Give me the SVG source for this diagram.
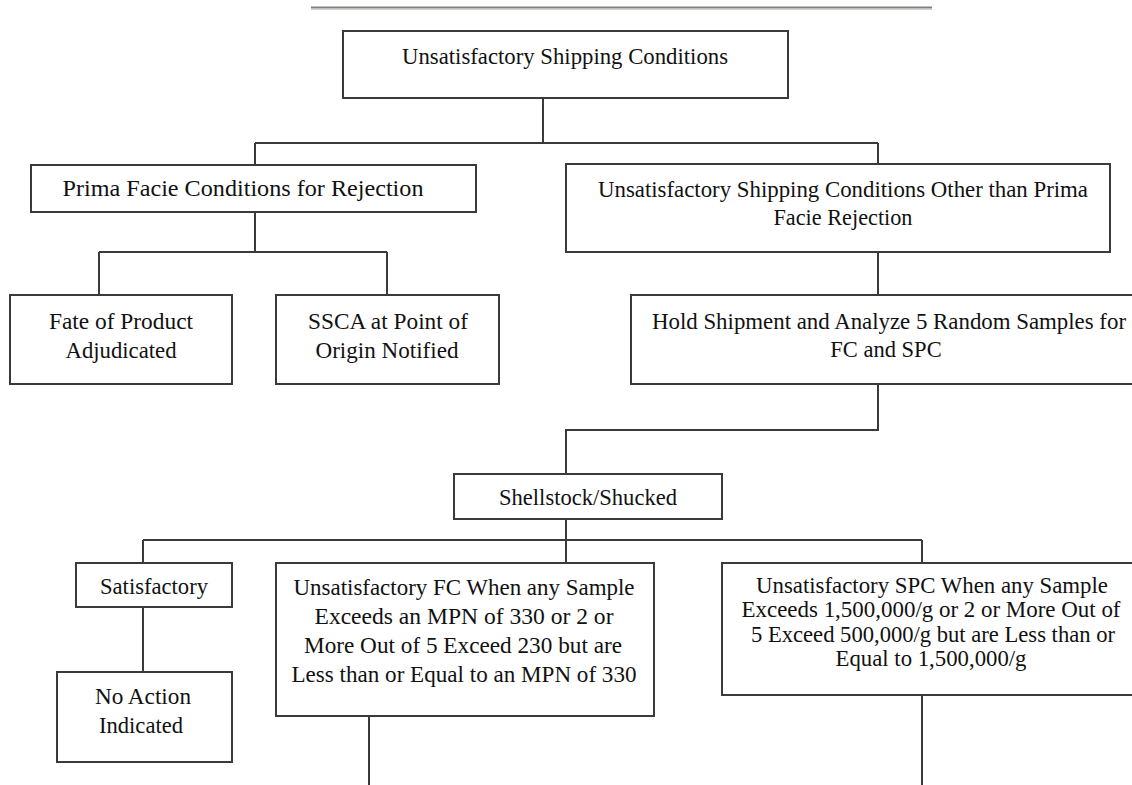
<svg xmlns="http://www.w3.org/2000/svg" width="1132" height="785" viewBox="0 0 1132 785">
<style>
.box{fill:#fff;stroke:#3a3a3a;stroke-width:2}
.con{fill:none;stroke:#3a3a3a;stroke-width:2}
text{font-family:"Liberation Serif","Times New Roman",serif;font-size:22.5px;fill:#111;text-anchor:middle}
</style>
<rect width="1132" height="785" fill="#fff"/>
<line x1="311" y1="7.5" x2="932" y2="7.5" stroke="#808080" stroke-width="2"/>
<line x1="311" y1="9.5" x2="932" y2="9.5" stroke="#d4d0c8" stroke-width="1"/>
<g id="connectors">
<path class="con" d="M543 98V143M255 143H878M255 143V165M878 143V165"/>
<path class="con" d="M255 212V252M99 252H387M99 252V295M387 252V295"/>
<path class="con" d="M878 252V295"/>
<path class="con" d="M878 384V430H566V474"/>
<path class="con" d="M566 519V540M143 540H922M143 540V563M566 540V563M922 540V563"/>
<path class="con" d="M143 607V672"/>
<path class="con" d="M369 716V785"/>
<path class="con" d="M922 695V785"/>
</g>
<g id="n1"><rect class="box" x="343" y="31" width="445" height="67"/><text x="565" y="64" textLength="326" lengthAdjust="spacingAndGlyphs">Unsatisfactory Shipping Conditions</text></g>
<g id="n2"><rect class="box" x="31" y="165" width="445" height="47"/><text x="243" y="196" textLength="361" lengthAdjust="spacingAndGlyphs">Prima Facie Conditions for Rejection</text></g>
<g id="n3"><rect class="box" x="566" y="164" width="544" height="88"/><text x="843" y="197" textLength="490" lengthAdjust="spacingAndGlyphs">Unsatisfactory Shipping Conditions Other than Prima</text><text x="843" y="225" textLength="139" lengthAdjust="spacingAndGlyphs">Facie Rejection</text></g>
<g id="n4"><rect class="box" x="10" y="295" width="222" height="89"/><text x="121" y="329" textLength="144" lengthAdjust="spacingAndGlyphs">Fate of Product</text><text x="121" y="358" textLength="111" lengthAdjust="spacingAndGlyphs">Adjudicated</text></g>
<g id="n5"><rect class="box" x="276" y="295" width="223" height="89"/><text x="388" y="329" textLength="160" lengthAdjust="spacingAndGlyphs">SSCA at Point of</text><text x="387" y="358" textLength="143" lengthAdjust="spacingAndGlyphs">Origin Notified</text></g>
<g id="n6"><rect class="box" x="631" y="295" width="516" height="89"/><text x="889" y="329" textLength="474" lengthAdjust="spacingAndGlyphs">Hold Shipment and Analyze 5 Random Samples for</text><text x="886" y="357">FC and SPC</text></g>
<g id="n7"><rect class="box" x="454" y="474" width="268" height="45"/><text x="588" y="505" textLength="178" lengthAdjust="spacingAndGlyphs">Shellstock/Shucked</text></g>
<g id="n8"><rect class="box" x="76" y="563" width="156" height="44"/><text x="154" y="594" textLength="108" lengthAdjust="spacingAndGlyphs">Satisfactory</text></g>
<g id="n9"><rect class="box" x="57" y="672" width="175" height="90"/><text x="143" y="704" textLength="96" lengthAdjust="spacingAndGlyphs">No Action</text><text x="141" y="733" textLength="84" lengthAdjust="spacingAndGlyphs">Indicated</text></g>
<g id="n10"><rect class="box" x="276" y="563" width="378" height="153"/><text x="464" y="595" textLength="341" lengthAdjust="spacingAndGlyphs">Unsatisfactory FC When any Sample</text><text x="464" y="624" textLength="299" lengthAdjust="spacingAndGlyphs">Exceeds an MPN of 330 or 2 or</text><text x="463" y="653" textLength="318" lengthAdjust="spacingAndGlyphs">More Out of 5 Exceed 230 but are</text><text x="464" y="682" textLength="345" lengthAdjust="spacingAndGlyphs">Less than or Equal to an MPN of 330</text></g>
<g id="n11"><rect class="box" x="722" y="563" width="420" height="132"/><text x="932" y="593" textLength="352" lengthAdjust="spacingAndGlyphs">Unsatisfactory SPC When any Sample</text><text x="931" y="617" textLength="379" lengthAdjust="spacingAndGlyphs">Exceeds 1,500,000/g or 2 or More Out of</text><text x="933" y="642" textLength="364" lengthAdjust="spacingAndGlyphs">5 Exceed 500,000/g but are Less than or</text><text x="931" y="666" textLength="191" lengthAdjust="spacingAndGlyphs">Equal to 1,500,000/g</text></g>
</svg>
